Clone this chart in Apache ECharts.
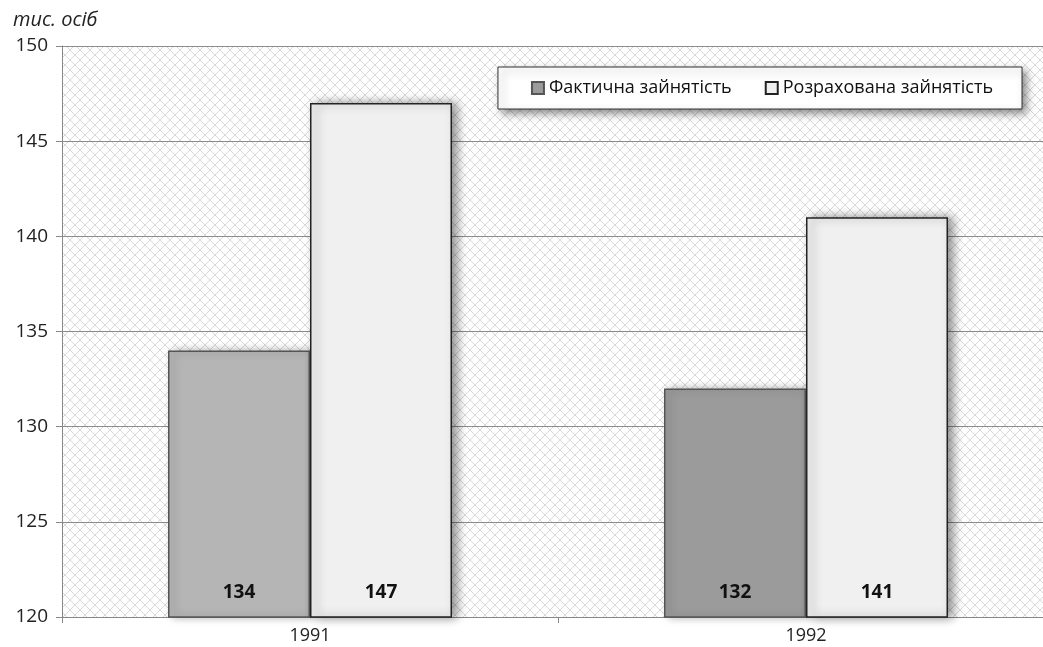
<!DOCTYPE html>
<html>
<head>
<meta charset="utf-8">
<script src="https://cdn.jsdelivr.net/npm/echarts@6/dist/echarts.min.js"></script>
<style>
  html, body { margin: 0; padding: 0; background: #fff; }
  #chart { width: 1043px; height: 647px; }
</style>
</head>
<body>
<div id="chart"></div>
<script>
var years = ['1991', '1992'];
var actual = [134, 132];
var estimated = [147, 141];
var yTicks = [120, 125, 130, 135, 140, 145, 150];

// diamond crosshatch for the plot area
function makePattern() {
  var c = document.createElement('canvas');
  c.width = 10; c.height = 10;
  var ctx = c.getContext('2d');
  ctx.fillStyle = '#ffffff';
  ctx.fillRect(0, 0, 10, 10);
  ctx.strokeStyle = '#d9d9d9';
  ctx.lineWidth = 1;
  ctx.beginPath();
  ctx.moveTo(0, 0); ctx.lineTo(10, 10);
  ctx.moveTo(10, 0); ctx.lineTo(0, 10);
  ctx.stroke();
  return c;
}

var chart = echarts.init(document.getElementById('chart'));
var font = '"Open Sans", "Liberation Sans", sans-serif';

var option = {
  animation: false,
  textStyle: { fontFamily: font },
  title: {
    text: 'тис. осіб',
    left: 8, top: 5,
    textStyle: { fontSize: 20, fontStyle: 'italic', fontWeight: 'normal', color: '#222', fontFamily: font }
  },
  legend: {
    right: 21, top: 67,
    itemWidth: 12, itemHeight: 12,
    itemGap: 33,
    padding: [12, 29, 12, 33],
    backgroundColor: '#fff',
    borderColor: '#333',
    borderWidth: 1,
    borderRadius: 0,
    shadowColor: 'rgba(0,0,0,0.45)',
    shadowBlur: 8,
    shadowOffsetX: 4,
    shadowOffsetY: 4,
    icon: 'rect',
    textStyle: { fontSize: 18, color: '#111', fontFamily: font },
    data: ['Фактична зайнятість', 'Розрахована зайнятість']
  },
  grid: {
    left: 62, top: 46, bottom: 30,
    width: 992,
    outerBoundsMode: 'none',
    containLabel: false,
    show: true,
    borderWidth: 0,
    backgroundColor: { image: makePattern(), repeat: 'repeat' }
  },
  xAxis: {
    type: 'category',
    data: years,
    axisLine: { lineStyle: { color: '#888', width: 1 } },
    axisTick: { show: true, length: 6, lineStyle: { color: '#888' } },
    axisLabel: { fontSize: 18, color: '#222', margin: 10 }
  },
  yAxis: {
    type: 'value',
    min: yTicks[0],
    max: yTicks[yTicks.length - 1],
    interval: 5,
    axisLine: { show: true, lineStyle: { color: '#888' } },
    axisTick: { show: true, inside: false, length: 6, lineStyle: { color: '#888' } },
    axisLabel: { fontSize: 19, color: '#222', margin: 14 },
    splitLine: { lineStyle: { color: '#8c8c8c', width: 1 } }
  },
  series: [
    {
      name: 'Фактична зайнятість',
      type: 'bar',
      barWidth: 142,
      barGap: '0%',
      itemStyle: {
        color: '#9b9b9b',
        borderColor: '#555',
        borderWidth: 1.5,
        shadowColor: 'rgba(0,0,0,0.3)',
        shadowBlur: 8,
        shadowOffsetX: 4
      },
      label: {
        show: true,
        position: 'insideBottom',
        distance: 16,
        fontSize: 19,
        fontWeight: 'bold',
        color: '#111'
      },
      data: actual.map(function (v, i) {
        return i === 0 ? { value: v, itemStyle: { color: '#b5b5b5' } } : v;
      })
    },
    {
      name: 'Розрахована зайнятість',
      type: 'bar',
      barWidth: 142,
      itemStyle: {
        color: '#f0f0f0',
        borderColor: '#222',
        borderWidth: 1.5,
        shadowColor: 'rgba(0,0,0,0.45)',
        shadowBlur: 10,
        shadowOffsetX: 5
      },
      label: {
        show: true,
        position: 'insideBottom',
        distance: 16,
        fontSize: 19,
        fontWeight: 'bold',
        color: '#111'
      },
      data: estimated
    }
  ]
};

chart.setOption(option);
</script>
</body>
</html>
